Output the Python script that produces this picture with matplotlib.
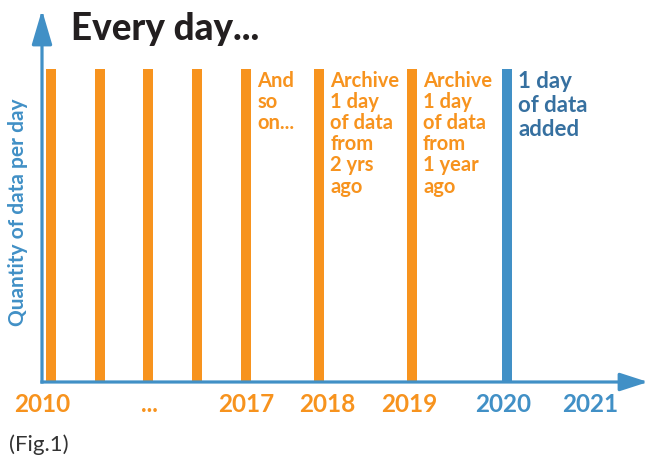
import matplotlib
matplotlib.use("Agg")
import matplotlib.pyplot as plt

ORANGE   = "#F7931E"
BLUE     = "#4190C6"
BLUE_TXT = "#3670A0"
INK      = "#231F20"

plt.rcParams["font.family"] = ["Lato", "DejaVu Sans"]

# schematic: one equal-height bar per day of data kept
bar_x    = [0, 1, 2, 3, 4, 5.5, 7.4, 9.35]
bar_h    = [1, 1, 1, 1, 1, 1, 1, 1]
bar_new  = [False] * 7 + [True]

tick_x   = [-0.18, 2.02, 4.0, 5.67, 7.35, 9.27, 11.06]
tick_lbl = ["2010", "...", "2017", "2018", "2019", "2020", "2021"]
tick_new = [False, False, False, False, False, True, True]

notes = {
    4: "And\nso\non...",
    5: "Archive\n1 day\nof data\nfrom\n2 yrs\nago",
    6: "Archive\n1 day\nof data\nfrom\n1 year\nago",
    7: "1 day\nof data\nadded",
}

W, H = 651, 457
fig = plt.figure(figsize=(W / 100, H / 100), dpi=100)
ax = fig.add_axes([42 / W, 75 / H, 606 / W, 372 / H])
ax.set_xlim(-0.12, 12.24)
ax.set_ylim(0, 1.188)
for sp in ax.spines.values():
    sp.set_visible(False)
ax.set_yticks([])

bw = 0.204
ax.bar(bar_x, bar_h, width=bw, color=[BLUE if n else ORANGE for n in bar_new],
       zorder=2)

# axes drawn as arrows
arrow_kw = dict(color=BLUE, lw=2.3, shrinkA=0, shrinkB=0, capstyle="projecting")
ax.annotate("", xy=(1, 0), xytext=(0, 0), xycoords="axes fraction",
            arrowprops=dict(arrowstyle="-|>,head_length=1.7,head_width=0.55",
                            mutation_scale=10, **arrow_kw), zorder=4)
ax.annotate("", xy=(0, 1), xytext=(0, 0), xycoords="axes fraction",
            arrowprops=dict(arrowstyle="-|>,head_length=2.1,head_width=0.62",
                            mutation_scale=10, **arrow_kw), zorder=4)

ax.set_xticks(tick_x, tick_lbl)
ax.tick_params(axis="x", length=0, pad=8)
for lbl, new in zip(ax.get_xticklabels(), tick_new):
    lbl.set_color(BLUE if new else ORANGE)
    lbl.set_fontweight("bold")
    lbl.set_fontsize(17.5)

for i, txt in notes.items():
    new = bar_new[i]
    ax.annotate(txt, xy=(bar_x[i] + bw / 2, bar_h[i]), xytext=(4.5, -1.5),
                textcoords="offset points", ha="left", va="top",
                fontsize=16 if new else 14.5, fontweight="bold",
                color=BLUE_TXT if new else ORANGE,
                linespacing=1.17 if new else 1.07)

fig.text(71 / W, 1 - 40 / H, "Every day...", fontsize=26.5, fontweight=900,
         color=INK, ha="left", va="baseline")
fig.text(18 / W, 1 - 212 / H, "Quantity of data per day", rotation=90,
         fontsize=15, fontweight="bold", color=BLUE, ha="center", va="center")
fig.text(9 / W, 1 - 445 / H, "(Fig.1)", fontsize=16, color="#333333",
         ha="left", va="center")

fig.savefig("out.png", dpi=100)
